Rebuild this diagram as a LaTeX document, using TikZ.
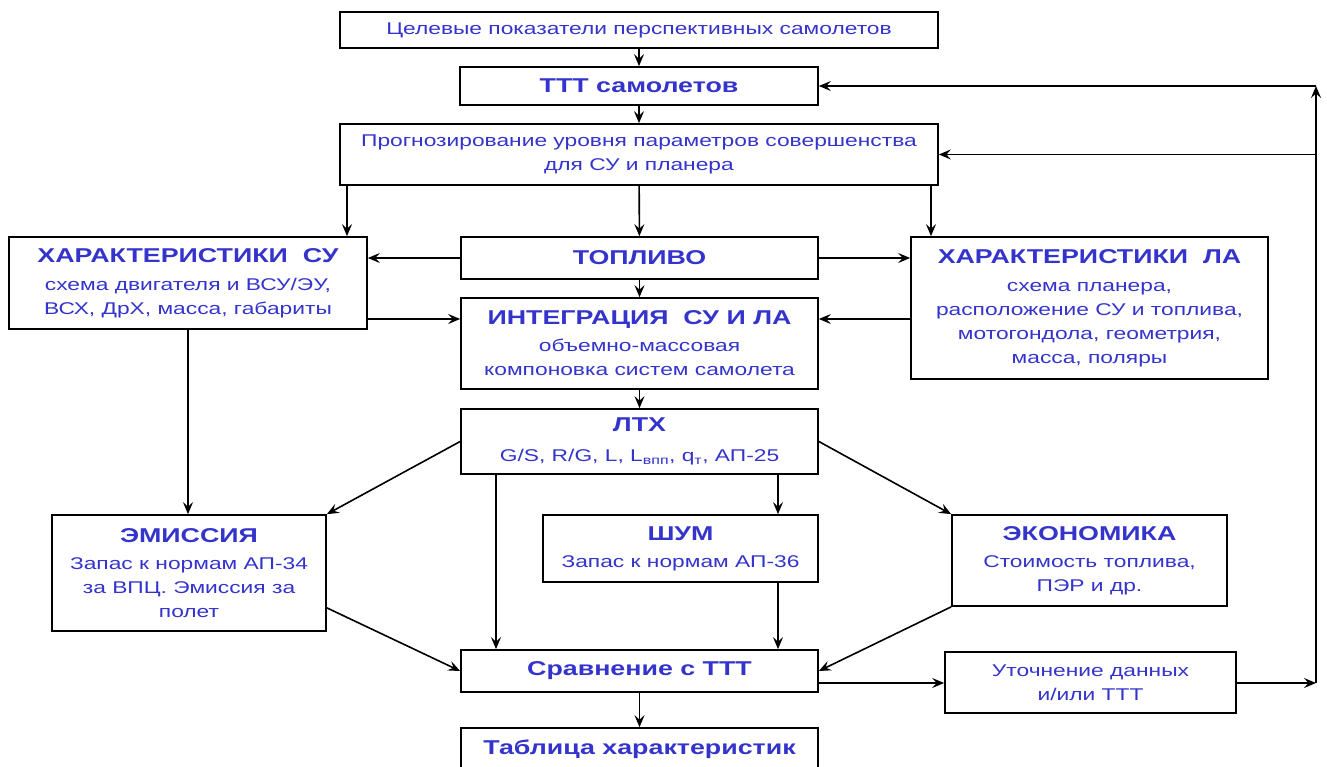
\documentclass[tikz,border=0pt]{standalone}
\usepackage{fontspec}
\setmainfont{Liberation Sans}[FakeStretch=1.34]
\usetikzlibrary{arrows.meta}
\definecolor{txtblue}{RGB}{52,52,204}
\newcommand{\hd}[1]{{\fontsize{20}{24}\selectfont\bfseries #1}}
\tikzset{
  box/.style={draw, line width=1.7pt, fill=white, text=txtblue, align=center,
    inner sep=0pt, font=\fontsize{17}{24}\selectfont},
  conn/.style={line width=1.6pt, -{Stealth[length=12pt,width=10pt,inset=4.5pt]}},
}
\begin{document}
\begin{tikzpicture}[x=1pt,y=-1pt]
\useasboundingbox (0,0) rectangle (1327,767);
% boxes
\node[box, minimum width=598, minimum height=36] (top) at (639,30)
  {Целевые показатели перспективных самолетов};
\node[box, minimum width=358, minimum height=38] (ttt) at (639,86)
  {\hd{ТТТ самолетов}};
\node[box, minimum width=598, minimum height=61] (prog) at (639,154.5)
  {Прогнозирование уровня параметров совершенства\\для СУ и планера};
\node[box, minimum width=358, minimum height=92] (harsu) at (188,283)
  {\hd{ХАРАКТЕРИСТИКИ~~СУ}\\[4pt]схема двигателя и ВСУ/ЭУ,\\ВСХ, ДрХ, масса, габариты};
\node[box, minimum width=357, minimum height=42] (fuel) at (639.5,258)
  {\hd{ТОПЛИВО}};
\node[box, minimum width=357, minimum height=142] (harla) at (1089.5,308)
  {\hd{ХАРАКТЕРИСТИКИ~~ЛА}\\[4pt]схема планера,\\расположение СУ и топлива,\\мотогондола, геометрия,\\масса, поляры};
\node[box, minimum width=357, minimum height=91] (integ) at (639.5,343.5)
  {\hd{ИНТЕГРАЦИЯ~~СУ И ЛА}\\[3pt]объемно-массовая\\компоновка систем самолета};
\node[box, minimum width=357, minimum height=65] (ltx) at (639.5,441.5)
  {\hd{ЛТХ}\\[6pt]G/S, R/G, L, L\textsubscript{впп}, q\textsubscript{т}, АП-25};
\node[box, minimum width=274, minimum height=116] (emis) at (189,573)
  {\hd{ЭМИССИЯ}\\[3pt]Запас к нормам АП-34\\за ВПЦ. Эмиссия за\\полет};
\node[box, minimum width=275, minimum height=67] (noise) at (680.5,548.5)
  {\hd{ШУМ}\\[3pt]Запас к нормам АП-36};
\node[box, minimum width=275, minimum height=91] (econ) at (1089.5,560.5)
  {\hd{ЭКОНОМИКА}\\[3pt]Стоимость топлива,\\ПЭР и др.};
\node[box, minimum width=357, minimum height=42] (comp) at (639.5,671)
  {\hd{Сравнение с ТТТ}};
\node[box, minimum width=291, minimum height=61] (refine) at (1090.5,682.5)
  {Уточнение данных\\и/или ТТТ};
\node[box, minimum width=357, minimum height=42] (table) at (639.5,749)
  {\hd{Таблица характеристик}};
% helper coordinates for offset connectors
\coordinate (xsu) at (347,0);
\coordinate (xla) at (931,0);
\coordinate (ylow) at (0,319);
\coordinate (xl) at (496,0);
\coordinate (xn) at (778,0);
\coordinate (yr) at (0,683);
\coordinate (fb) at (1316,683);
\coordinate (emisout) at ([yshift=24pt]emis.south east);
% connectors
\draw[conn] (top) -- (ttt);
\draw[conn] (ttt) -- (prog);
\draw[conn] (prog.south -| xsu) -- (harsu.north -| xsu);
\draw[conn] (prog) -- (fuel);
\draw[conn] (prog.south -| xla) -- (harla.north -| xla);
\draw[conn] (fuel.west) -- (fuel.west -| harsu.east);
\draw[conn] (fuel.east) -- (fuel.east -| harla.west);
\draw[conn] (harsu.east |- ylow) -- (integ.west |- ylow);
\draw[conn] (harla.west |- ylow) -- (integ.east |- ylow);
\draw[conn] (fuel) -- (integ);
\draw[conn] (integ) -- (ltx);
\draw[conn] (harsu.south) -- (harsu.south |- emis.north);
\draw[conn] (ltx.west) -- (emis.north east);
\draw[conn] (ltx.south -| xl) -- (comp.north -| xl);
\draw[conn] (ltx.south -| xn) -- (noise.north -| xn);
\draw[conn] (noise.south -| xn) -- (comp.north -| xn);
\draw[conn] (ltx.east) -- (econ.north west);
\draw[conn] (emisout) -- (comp.west);
\draw[conn] (econ.south west) -- (comp.east);
\draw[conn] (comp.east |- yr) -- (refine.west |- yr);
\draw[conn] (refine.east |- yr) -- (fb);
\draw[conn] (fb) -- (fb |- ttt.east);
\draw[conn] (fb |- ttt.east) -- (ttt.east);
\draw[conn] (fb |- prog.east) -- (prog.east);
\draw[conn] (comp) -- (table);
\end{tikzpicture}
\end{document}
